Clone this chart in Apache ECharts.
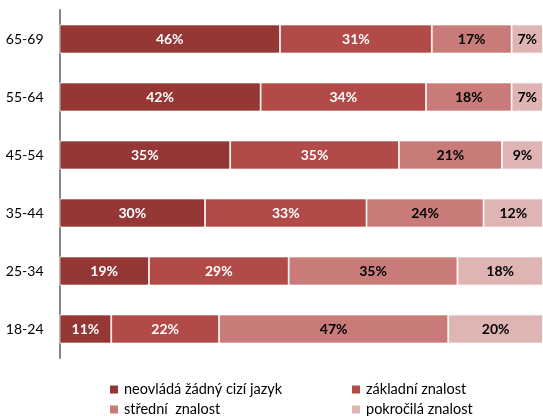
<!DOCTYPE html>
<html>
<head>
<meta charset="utf-8">
<script src="https://cdn.jsdelivr.net/npm/echarts@6/dist/echarts.min.js"></script>
<style>
html,body{margin:0;padding:0;background:#fff;}
#c{width:543px;height:416px;}
</style>
</head>
<body>
<div id="c"></div>
<script>
// categories, top to bottom
var categories = ['65-69', '55-64', '45-54', '35-44', '25-34', '18-24'];
// shares in % (labels show rounded values)
var neovlada = [45.6, 41.6, 35.3, 30.1, 18.5, 10.7];
var zakladni = [31.4, 34.2, 34.9, 33.4, 28.9, 22.3];
var stredni  = [16.5, 17.7, 21.3, 24.2, 34.9, 47.4];
var pokrocila = [6.5, 6.5, 8.5, 12.3, 17.7, 19.6];
var seriesNames = ['neovládá žádný cizí jazyk', 'základní znalost', 'střední  znalost', 'pokročilá znalost'];
var colors = ['#953735', '#B24A48', '#C97B7A', '#DFB5B4'];
var labelColors = ['#ffffff', '#ffffff', '#000000', '#000000'];

var FONT = 'Lato';
var chart = echarts.init(document.getElementById('c'));
var allData = [neovlada, zakladni, stredni, pokrocila];

var series = allData.map(function (d, i) {
  return {
    name: seriesNames[i],
    type: 'bar',
    stack: 'total',
    barWidth: '50%',
    data: d,
    itemStyle: { color: colors[i], borderColor: '#ffffff', borderWidth: 0.8 },
    label: {
      show: true,
      position: 'inside',
      color: labelColors[i],
      fontFamily: FONT,
      fontWeight: 'bold',
      fontSize: 14,
      formatter: function (p) { return Math.round(p.value) + '%'; }
    }
  };
});

var legendPos = [
  { left: 108, top: 382 },
  { left: 350, top: 382 },
  { left: 108, top: 402 },
  { left: 350, top: 402 }
];
var legends = seriesNames.map(function (n, i) {
  return {
    data: [n],
    left: legendPos[i].left,
    top: legendPos[i].top,
    padding: 0,
    itemWidth: 10,
    itemHeight: 10,
    icon: 'rect',
    selectedMode: false,
    textStyle: { fontFamily: FONT, fontSize: 14.5, color: '#000' }
  };
});

chart.setOption({
  animation: false,
  color: colors,
  legend: legends,
  grid: { left: 59.5, right: -0.5, top: 10, bottom: 58, containLabel: false },
  xAxis: {
    type: 'value',
    min: 0,
    max: 100,
    show: false,
    splitLine: { show: false }
  },
  yAxis: {
    type: 'category',
    data: categories,
    inverse: true,
    axisTick: { show: false },
    axisLine: { show: true, lineStyle: { color: '#868686', width: 2 } },
    axisLabel: { margin: 16, color: '#000', fontFamily: FONT, fontSize: 14 }
  },
  series: series
});
</script>
</body>
</html>
